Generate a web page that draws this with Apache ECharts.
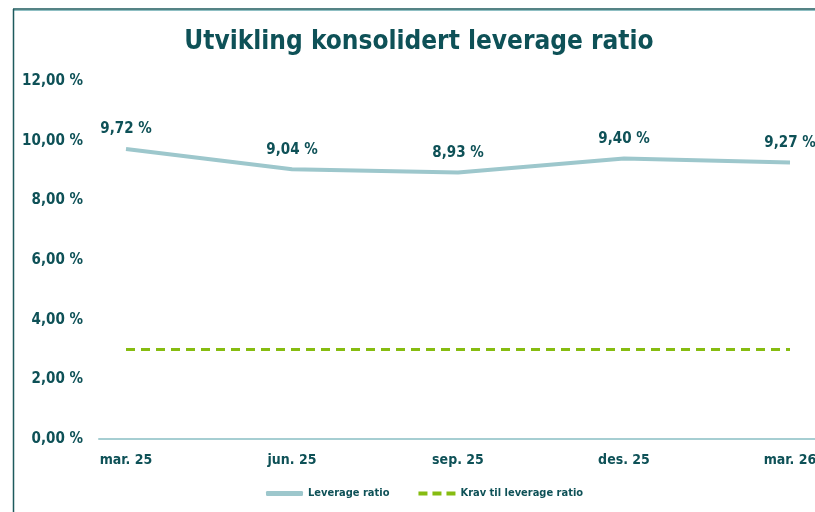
<!DOCTYPE html>
<html>
<head>
<meta charset="utf-8">
<script src="https://cdn.jsdelivr.net/npm/echarts@6/dist/echarts.min.js"></script>
<style>
  html, body { margin: 0; padding: 0; background: #fff; }
  #chart { width: 815px; height: 512px; }
</style>
</head>
<body>
<div id="chart"></div>
<script>
// kvartaler
const periods = ['mar. 25', 'jun. 25', 'sep. 25', 'des. 25', 'mar. 26']
// konsolidert leverage ratio (%)
const leverage = [9.72, 9.04, 8.93, 9.40, 9.27]
// krav til leverage ratio (%)
const requirement = [3, 3, 3, 3, 3]
const yTicks = [0, 2, 4, 6, 8, 10, 12]

const FONT = '"Liberation Sans Narrow", "DejaVu Sans Condensed", "Arial Narrow", sans-serif'
const DARK = '#0e5157'

const fmt = v => v.toFixed(2).replace('.', ',') + ' %'

const chart = echarts.init(document.getElementById('chart'))

chart.setOption({
  animation: false,
  textStyle: { fontFamily: FONT },
  title: {
    text: 'Utvikling konsolidert leverage ratio',
    left: 419,
    textAlign: 'center',
    top: 29,
    padding: 0,
    textStyle: { fontFamily: FONT, fontSize: 26, fontWeight: 'bold', color: DARK }
  },
  // ramme
  graphic: [
    { type: 'line', shape: { x1: 13, y1: 9, x2: 815, y2: 9 }, style: { stroke: '#1d5a5d', lineWidth: 1.5 } },
    { type: 'line', shape: { x1: 13, y1: 10.5, x2: 815, y2: 10.5 }, style: { stroke: '#8fbfc3', lineWidth: 1 } },
    { type: 'line', shape: { x1: 13.5, y1: 9, x2: 13.5, y2: 512 }, style: { stroke: '#1d5a5d', lineWidth: 1.5 } }
  ],
  legend: {
    left: 266,
    top: 488,
    padding: 0,
    itemWidth: 37,
    itemHeight: 5,
    itemGap: 29,
    textStyle: { fontFamily: FONT, fontSize: 11, fontWeight: 'bold', color: DARK },
    data: [
      { name: 'Leverage ratio', icon: 'roundRect' },
      { name: 'Krav til leverage ratio', icon: 'path://M0,0h9v4h-9z M14,0h9v4h-9z M28,0h9v4h-9z' }
    ]
  },
  grid: { left: 99, right: 0, top: 81, bottom: 73, outerBoundsMode: 'none' },
  xAxis: {
    type: 'value',
    min: -27 / 166,
    max: 4 + 25 / 166,
    splitLine: { show: false },
    axisLine: { show: true, lineStyle: { color: '#a6ced2', width: 2 } },
    axisTick: { show: false },
    axisLabel: {
      customValues: periods.map((p, i) => i),
      formatter: v => periods[Math.round(v)],
      margin: 14,
      fontFamily: FONT,
      fontSize: 14,
      fontWeight: 'bold',
      color: DARK
    }
  },
  yAxis: {
    type: 'value',
    min: 0,
    max: 12,
    interval: 2,
    axisLine: { show: false },
    axisTick: { show: false },
    splitLine: { show: false },
    axisLabel: {
      customValues: yTicks,
      formatter: fmt,
      margin: 16,
      fontFamily: FONT,
      fontSize: 15,
      fontWeight: 'bold',
      color: DARK
    }
  },
  series: [
    {
      name: 'Leverage ratio',
      type: 'line',
      data: leverage.map((v, i) => [i, v]),
      symbol: 'circle',
      symbolSize: 0,
      lineStyle: { color: '#9dc7cc', width: 4 },
      itemStyle: { color: '#9dc7cc' },
      label: {
        show: true,
        position: 'top',
        distance: 12,
        formatter: p => fmt(p.value[1]),
        fontFamily: FONT,
        fontSize: 15,
        fontWeight: 'bold',
        color: DARK
      },
      z: 3
    },
    {
      name: 'Krav til leverage ratio',
      type: 'line',
      data: requirement.map((v, i) => [i, v]),
      symbol: 'none',
      lineStyle: { color: '#86bc11', width: 3, type: [9, 6] },
      itemStyle: { color: '#86bc11' },
      z: 2
    }
  ]
})
</script>
</body>
</html>
